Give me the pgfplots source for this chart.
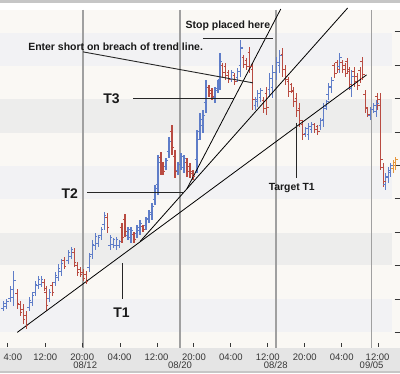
\documentclass[border=0pt]{standalone}
\usepackage{pgfplots}
\usepackage{pgfplotstable}
\pgfplotsset{compat=1.18}
\usepackage{fontspec}
\setmainfont{Liberation Sans}
\definecolor{barblue}{RGB}{95,125,200}
\definecolor{barred}{RGB}{185,75,65}
\definecolor{barorange}{RGB}{230,150,60}
\definecolor{bgcream}{RGB}{250,248,244}
\definecolor{bandA}{RGB}{237,237,236}
\definecolor{bandB}{RGB}{242,242,244}
\definecolor{sepgray}{RGB}{160,160,160}
\definecolor{lblgray}{RGB}{55,55,55}
\definecolor{botband}{RGB}{229,229,229}
\pgfdeclareplotmark{lt}{\pgfpathmoveto{\pgfqpoint{-2.2pt}{0pt}}\pgfpathlineto{\pgfqpoint{0pt}{0pt}}\pgfusepathqstroke}
\pgfdeclareplotmark{rt}{\pgfpathmoveto{\pgfqpoint{0pt}{0pt}}\pgfpathlineto{\pgfqpoint{2.2pt}{0pt}}\pgfusepathqstroke}

% pixel-style coordinates: x from left, y from top (y dir=reverse)
\pgfplotstableread{
x top bot op cl
3 302 312 309 304
6 300 310 307 302
10 287 303 299 290
13 272 307 298 281
29 298 312 308 301
32 293 307 303 296
35 282 297 293 285
38 277 290 286 280
41 277 288 285 280
49 290 303 299 293
55 273 287 283 276
58 265 282 278 269
61 260 277 272 264
68 250 265 261 253
71 247 260 257 250
89 253 273 268 257
92 240 260 255 245
95 233 250 246 237
98 235 247 244 238
101 227 240 236 230
104 212 230 225 216
110 235 250 246 238
113 238 248 245 240
116 237 250 246 240
119 240 248 246 242
128 227 240 236 230
131 227 243 238 231
137 225 238 234 228
140 220 235 231 224
146 217 230 226 220
149 210 223 219 213
152 203 220 215 207
155 185 205 200 189
158 155 195 185 163
166 158 170 167 161
169 137 158 152 142
178 162 175 171 165
181 153 170 165 157
184 155 173 168 159
197 130 173 160 140
200 113 140 132 120
203 110 133 126 116
206 80 113 103 88
215 87 103 98 91
218 80 93 89 83
220 53 90 80 62
232 70 82 79 73
238 68 82 78 72
241 40 77 66 48
256 97 110 106 100
258 90 107 102 94
261 88 102 98 91
270 73 97 90 79
273 65 98 88 73
277 57 80 73 63
280 50 73 66 56
306 127 137 134 129
309 123 140 135 127
312 122 133 130 125
321 118 130 126 121
324 103 127 120 109
327 100 110 107 102
329 83 100 95 87
332 77 93 88 81
340 53 73 67 58
352 70 97 89 77
371 107 120 116 110
374 103 113 110 106
377 100 117 112 104
386 173 190 185 177
389 167 183 178 171
391 163 177 173 166
}\bluebars

\pgfplotstableread{
x top bot op cl
17 290 310 294 304
20 302 317 305 313
23 305 325 310 320
26 312 330 316 326
44 280 292 283 289
46 287 312 293 306
52 283 297 286 293
64 258 270 261 267
74 248 268 253 263
77 263 277 266 273
80 268 278 270 275
83 270 282 273 279
86 272 285 275 282
107 213 233 218 228
122 223 243 228 238
125 214 237 220 232
134 232 243 235 240
143 225 232 227 230
161 152 175 158 170
163 162 175 165 172
172 125 155 132 148
175 150 178 157 172
187 158 177 163 172
190 163 178 167 174
193 170 180 172 177
209 85 97 88 94
212 88 100 91 97
223 63 77 66 73
226 63 80 67 76
229 70 83 73 80
235 73 85 76 82
244 55 68 58 65
247 58 70 61 67
250 47 73 53 67
253 63 110 70 100
264 97 113 101 109
267 87 115 94 108
283 48 77 55 70
286 65 85 70 80
289 77 97 82 92
292 83 93 85 91
294 87 107 92 102
297 93 117 99 111
300 103 127 109 121
303 120 140 125 135
315 123 133 125 130
318 125 135 127 132
335 63 78 66 74
338 60 73 63 70
343 60 73 63 70
346 63 77 66 74
348 58 73 62 70
350 67 90 72 85
355 67 87 72 82
358 73 90 77 86
361 67 83 71 79
363 57 80 62 75
366 90 113 95 108
368 107 117 109 115
378 93 110 97 106
381 93 170 100 160
384 163 187 168 182
}\redbars

\pgfplotstableread{
x top bot op cl
394 160 173 169 163
396 157 170 166 160
}\orangebars

\begin{document}
\begin{tikzpicture}
\begin{axis}[
  width=400pt, height=374pt, scale only axis,
  xmin=0, xmax=400, ymin=0, ymax=374, y dir=reverse,
  hide axis, clip=false,
]
% background
\fill[bgcream] (axis cs:0,0) rectangle (axis cs:400,349);
\fill[gray!45] (axis cs:0,0) rectangle (axis cs:400,3);
\fill[bandB] (axis cs:0,33) rectangle (axis cs:392,66);
\fill[bandA] (axis cs:0,99) rectangle (axis cs:392,133);
\fill[bandB] (axis cs:0,166) rectangle (axis cs:392,199);
\fill[bandA] (axis cs:0,233) rectangle (axis cs:392,266);
\fill[bandB] (axis cs:0,300) rectangle (axis cs:392,333);
\fill[white] (axis cs:0,3) rectangle (axis cs:400,10);
\fill[botband] (axis cs:0,349) rectangle (axis cs:400,374);
\fill[gray!45] (axis cs:0,372) rectangle (axis cs:400,374);
% day separators
\foreach \xx in {83,180,276,372} {
  \edef\tmp{\noexpand\draw[sepgray, line width=1.5pt] (axis cs:\xx,10) -- (axis cs:\xx,349);}\tmp
}
% bottom ticks
\foreach \xx in {7,45,82,120,157,193,231,268,305,342,379} {
  \edef\tmp{\noexpand\draw[lblgray, line width=0.9pt] (axis cs:\xx,344) -- (axis cs:\xx,348);}\tmp
}
% right ticks
\foreach \yy in {32,66,99,133,166,199,233,266,300,333} {
  \edef\tmp{\noexpand\draw[lblgray, line width=0.9pt] (axis cs:395,\yy) -- (axis cs:400,\yy);}\tmp
}

% OHLC bars
\addplot[only marks, mark=lt, color=barblue, mark options={line width=1.2pt},
  error bars/.cd, y dir=both, y explicit, error mark=none,
  error bar style={line width=1.2pt, color=barblue}]
  table[x=x, y=op, y error plus expr=\thisrow{bot}-\thisrow{op}, y error minus expr=\thisrow{op}-\thisrow{top}] {\bluebars};
\addplot[only marks, mark=rt, color=barblue, mark options={line width=1.2pt}] table[x=x, y=cl] {\bluebars};
\addplot[only marks, mark=lt, color=barred, mark options={line width=1.2pt},
  error bars/.cd, y dir=both, y explicit, error mark=none,
  error bar style={line width=1.2pt, color=barred}]
  table[x=x, y=op, y error plus expr=\thisrow{bot}-\thisrow{op}, y error minus expr=\thisrow{op}-\thisrow{top}] {\redbars};
\addplot[only marks, mark=rt, color=barred, mark options={line width=1.2pt}] table[x=x, y=cl] {\redbars};
\addplot[only marks, mark=lt, color=barorange, mark options={line width=1.2pt},
  error bars/.cd, y dir=both, y explicit, error mark=none,
  error bar style={line width=1.2pt, color=barorange}]
  table[x=x, y=op, y error plus expr=\thisrow{bot}-\thisrow{op}, y error minus expr=\thisrow{op}-\thisrow{top}] {\orangebars};
\addplot[only marks, mark=rt, color=barorange, mark options={line width=1.2pt}] table[x=x, y=cl] {\orangebars};

% trend lines
\addplot[black, line width=0.8pt] coordinates {(17,333) (367,75)};
\addplot[black, line width=0.8pt] coordinates {(140,242) (348,8)};
\addplot[black, line width=0.8pt] coordinates {(187,189) (281,9)};
% annotation pointers
\addplot[black!85, line width=0.9pt] coordinates {(203,39) (273,39)};
\addplot[black!85, line width=0.9pt] coordinates {(83,52) (253,83)};
\addplot[black!85, line width=0.9pt] coordinates {(133,99) (234,99)};
\addplot[black!85, line width=0.9pt] coordinates {(87,193) (183,193)};
\addplot[black!85, line width=0.9pt] coordinates {(122,264) (122,300)};
\addplot[black!85, line width=0.9pt] coordinates {(297,123) (297,178)};

% annotation texts
\node[font=\bfseries\fontsize{10.5}{12}\selectfont, text=black!90] at (axis cs:228,26) {Stop placed here};
\node[font=\bfseries\fontsize{10.5}{12}\selectfont, text=black!90] at (axis cs:115.5,47) {Enter short on breach of trend line.};
\node[font=\bfseries\fontsize{14}{16}\selectfont, text=black!90] at (axis cs:111.5,99) {T3};
\node[font=\bfseries\fontsize{14}{16}\selectfont, text=black!90] at (axis cs:69.5,194.5) {T2};
\node[font=\bfseries\fontsize{14}{16}\selectfont, text=black!90] at (axis cs:121.5,313) {T1};
\node[font=\bfseries\fontsize{10.4}{12}\selectfont, text=black!90] at (axis cs:292,188) {Target T1};

% x tick labels
\begin{scope}[every node/.style={font=\fontsize{9.5}{11}\selectfont, text=lblgray, inner sep=0pt}]
\node at (axis cs:12.5,357.5) {4:00};
\node at (axis cs:45,357.5) {12:00};
\node at (axis cs:82,357.5) {20:00};
\node at (axis cs:119.5,357.5) {04:00};
\node at (axis cs:156.5,357.5) {12:00};
\node at (axis cs:194,357.5) {20:00};
\node at (axis cs:231,357.5) {04:00};
\node at (axis cs:268,357.5) {12:00};
\node at (axis cs:305,357.5) {20:00};
\node at (axis cs:342,357.5) {04:00};
\node at (axis cs:378,357.5) {12:00};
\node at (axis cs:85,366) {08/12};
\node at (axis cs:180,366) {08/20};
\node at (axis cs:276,366) {08/28};
\node at (axis cs:372,366) {09/05};
\end{scope}
\end{axis}
\end{tikzpicture}
\end{document}
